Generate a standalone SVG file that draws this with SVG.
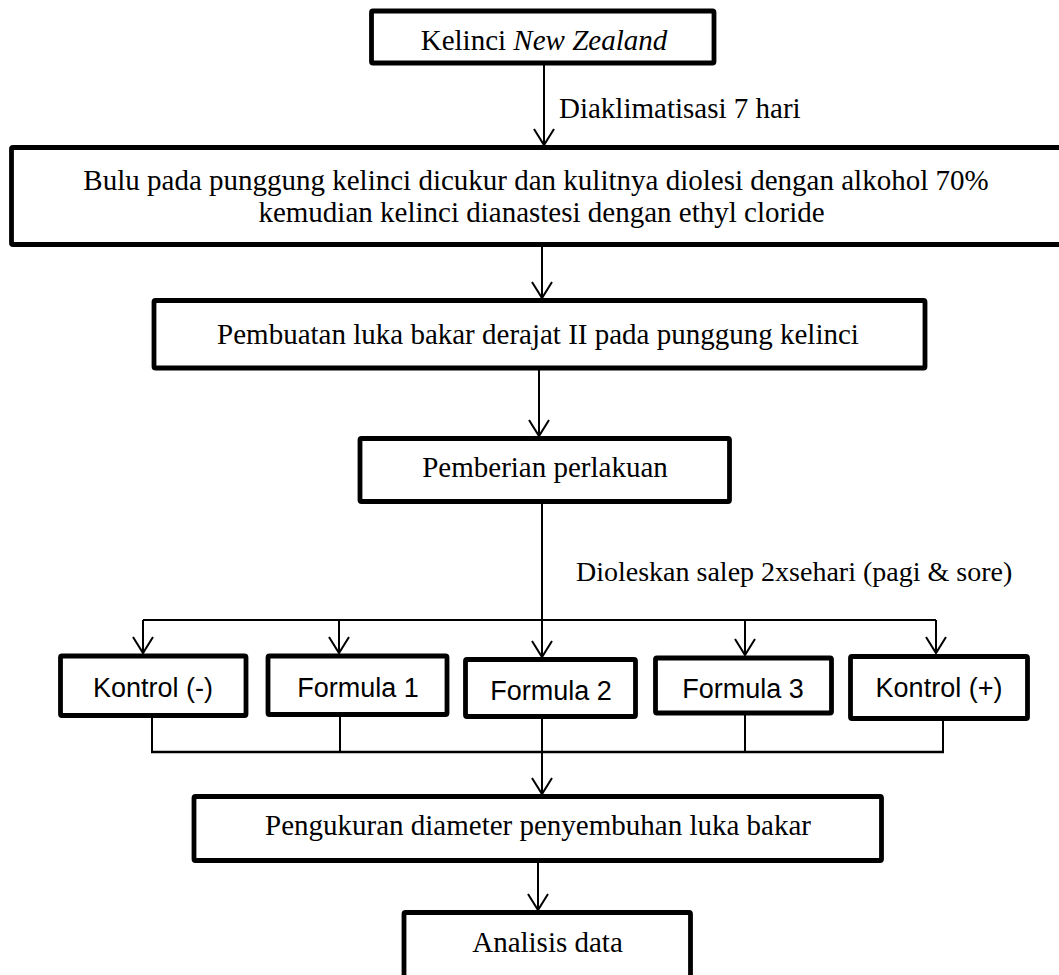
<svg xmlns="http://www.w3.org/2000/svg" width="1059" height="975" viewBox="0 0 1059 975">
<defs>
<style>
.box{fill:#fff;stroke:#000;stroke-width:4.8;}
.ln{fill:none;stroke:#000;stroke-width:2;}
.serif{font-family:"Liberation Serif","Times New Roman",serif;font-size:29px;fill:#000;}
.sans{font-family:"Liberation Sans",Arial,sans-serif;font-size:27px;fill:#000;}
.mid{text-anchor:middle;}
</style>
<marker id="arr" viewBox="-20 -13 22 26" refX="0" refY="0" markerWidth="22" markerHeight="26" markerUnits="userSpaceOnUse" orient="auto">
<path d="M-16,-10 L0,0 L-16,10" fill="none" stroke="#000" stroke-width="2"/>
</marker>
</defs>
<rect width="1059" height="975" fill="#fff"/>

<g id="connectors">
<line class="ln" x1="544" y1="65" x2="544" y2="145" marker-end="url(#arr)"/>
<line class="ln" x1="542" y1="247" x2="542" y2="298" marker-end="url(#arr)"/>
<line class="ln" x1="539" y1="370" x2="539" y2="436" marker-end="url(#arr)"/>
<line class="ln" x1="542" y1="503" x2="542" y2="620"/>
<line class="ln" x1="143" y1="620" x2="936" y2="620"/>
<line class="ln" x1="143" y1="620" x2="143" y2="653" marker-end="url(#arr)"/>
<line class="ln" x1="339" y1="620" x2="339" y2="653" marker-end="url(#arr)"/>
<line class="ln" x1="542" y1="620" x2="542" y2="657" marker-end="url(#arr)"/>
<line class="ln" x1="745" y1="620" x2="745" y2="655" marker-end="url(#arr)"/>
<line class="ln" x1="936" y1="620" x2="936" y2="653" marker-end="url(#arr)"/>
<line class="ln" x1="152" y1="717" x2="152" y2="752"/>
<line class="ln" x1="340" y1="717" x2="340" y2="752"/>
<line class="ln" x1="745" y1="715" x2="745" y2="752"/>
<line class="ln" x1="943" y1="721" x2="943" y2="752"/>
<line class="ln" x1="151" y1="752" x2="944" y2="752" style="stroke-width:2.5"/>
<line class="ln" x1="542" y1="719" x2="542" y2="794" marker-end="url(#arr)"/>
<line class="ln" x1="538" y1="863" x2="538" y2="910" marker-end="url(#arr)"/>
<text class="serif" x="559" y="118">Diaklimatisasi 7 hari</text>
<text class="serif" x="576" y="581" style="font-size:28px">Dioleskan salep 2xsehari (pagi &amp; sore)</text>
</g>

<g id="node-kelinci">
<rect class="box" x="371.5" y="11" width="342.5" height="52" rx="1.5"/>
<text class="serif mid" x="544" y="50">Kelinci <tspan font-style="italic">New Zealand</tspan></text>
</g>

<g id="node-bulu">
<rect class="box" x="11.5" y="147.5" width="1060" height="97" rx="1.5"/>
<text class="serif mid" x="536" y="190">Bulu pada punggung kelinci dicukur dan kulitnya diolesi dengan alkohol 70%</text>
<text class="serif mid" x="541.5" y="222">kemudian kelinci dianastesi dengan ethyl cloride</text>
</g>

<g id="node-pembuatan">
<rect class="box" x="154" y="300.5" width="771" height="67.5" rx="1.5"/>
<text class="serif mid" x="538" y="344">Pembuatan luka bakar derajat II pada punggung kelinci</text>
</g>

<g id="node-pemberian">
<rect class="box" x="360" y="438.5" width="369.5" height="63" rx="1.5"/>
<text class="serif mid" x="545" y="477">Pemberian perlakuan</text>
</g>

<g id="node-kontrol-neg">
<rect class="box" x="60.5" y="656" width="185.5" height="59.5" rx="1.5"/>
<text class="sans mid" x="153" y="697">Kontrol (-)</text>
</g>

<g id="node-formula1">
<rect class="box" x="268" y="656" width="179" height="58.5" rx="1.5"/>
<text class="sans mid" x="358" y="697">Formula 1</text>
</g>

<g id="node-formula2">
<rect class="box" x="465.5" y="659.5" width="170" height="57" rx="1.5"/>
<text class="sans mid" x="551" y="700">Formula 2</text>
</g>

<g id="node-formula3">
<rect class="box" x="655.5" y="658" width="176" height="55" rx="1.5"/>
<text class="sans mid" x="743" y="698">Formula 3</text>
</g>

<g id="node-kontrol-pos">
<rect class="box" x="850.5" y="656.5" width="177" height="62" rx="1.5"/>
<text class="sans mid" x="939" y="697">Kontrol (+)</text>
</g>

<g id="node-pengukuran">
<rect class="box" x="194" y="796.5" width="687.5" height="64" rx="1.5"/>
<text class="serif mid" x="538" y="835">Pengukuran diameter penyembuhan luka bakar</text>
</g>

<g id="node-analisis">
<rect class="box" x="404" y="912.5" width="286.5" height="80" rx="1.5"/>
<text class="serif mid" x="547.5" y="952">Analisis data</text>
</g>
</svg>
